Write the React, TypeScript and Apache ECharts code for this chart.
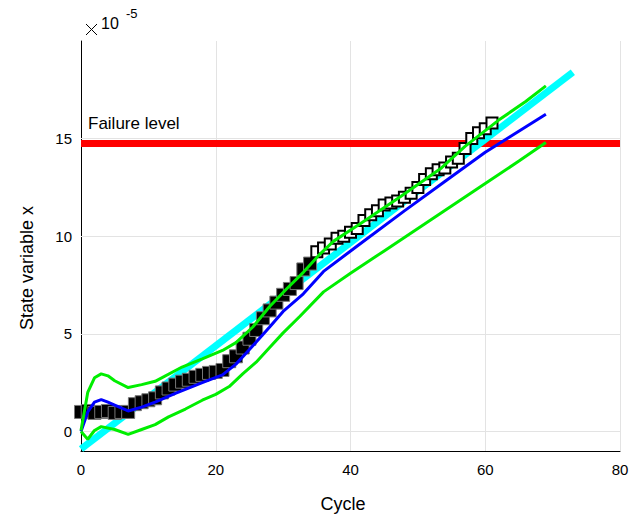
import React, { useEffect, useRef } from "react";
import * as echarts from "echarts";

// Measured state (x 1e-5) per cycle
const cycles = [
  0, 1, 2, 3, 4, 5, 6, 7, 8, 9, 10, 11, 12, 13, 14, 15, 16, 17, 18, 19, 20,
  21, 22, 23, 24, 25, 26, 27, 28, 29, 30, 31, 32, 33, 34, 35, 36, 37, 38, 39,
  40, 41, 42, 43, 44, 45, 46, 47, 48, 49, 50, 51, 52, 53, 54, 55, 56, 57, 58,
  59, 60, 61,
];
const measured = [
  1.0, 1.05, 0.95, 1.0, 1.05, 0.95, 1.0, 1.0, 1.4, 1.5, 1.6, 1.7, 2.0, 2.2,
  2.4, 2.55, 2.65, 2.8, 2.9, 3.0, 3.05, 3.15, 3.6, 3.85, 4.3, 4.75, 5.2, 5.8,
  6.2, 6.6, 7.0, 7.3, 7.6, 8.3, 8.6, 9.2, 9.4, 9.6, 9.9, 10.0, 10.2, 10.4,
  10.8, 11.1, 11.3, 11.6, 11.7, 11.8, 12.0, 12.2, 12.5, 12.9, 13.2, 13.4,
  13.5, 13.8, 14.0, 14.5, 15.0, 15.3, 15.5, 15.8,
];
const lastUsedCycle = 34;

// Median prediction (blue)
const medianX = [0, 1, 2, 3, 4, 5, 7, 9, 11, 14, 18, 21, 23, 25, 28, 30, 33, 36, 41, 48, 54, 60, 69];
const medianY = [0, 1.0, 1.5, 1.63, 1.5, 1.35, 1.05, 1.25, 1.5, 1.95, 2.5, 2.9, 3.45, 4.2, 5.35, 6.15, 7.05, 8.2, 9.5, 11.3, 12.8, 14.3, 16.25];

// Upper bound (green)
const upperX = [0, 1, 2, 3, 4, 5, 7, 9, 11, 15, 18, 21, 23, 25.5, 28, 30.5, 33, 35.5, 37.5, 41.5, 47.5, 53.5, 57, 62, 66, 69];
const upperY = [0.05, 2.0, 2.75, 2.95, 2.85, 2.6, 2.25, 2.4, 2.57, 3.3, 3.72, 4.15, 4.55, 5.35, 6.4, 7.3, 8.15, 9.1, 9.75, 10.65, 12.05, 13.5, 14.6, 15.95, 16.9, 17.7];

// Lower bound (green)
const lowerX = [0, 1, 2, 3, 5, 7, 9, 11, 13, 15.5, 18, 20, 22, 24, 26, 28, 30, 32.5, 36, 40, 45, 50, 55, 60, 65, 69];
const lowerY = [0, -0.4, 0.05, 0.25, 0.1, -0.15, 0.1, 0.35, 0.75, 1.15, 1.6, 1.9, 2.3, 2.95, 3.55, 4.3, 5.05, 5.9, 7.15, 8.1, 9.25, 10.4, 11.55, 12.7, 13.85, 14.8];

// True degradation (cyan)
const trueX = [0, 73];
const trueY = [-0.9, 18.4];

const failureLevel = 14.75;
const xTicks = [0, 20, 40, 60, 80];
const yTicks = [0, 5, 10, 15];

const FONT = "Liberation Sans, Arial, sans-serif";

const zip = (xs: number[], ys: number[]) => xs.map((x, i) => [x, ys[i]]);

export default function App() {
  const ref = useRef<HTMLDivElement>(null);
  useEffect(() => {
    if (!ref.current) return;
    const chart = echarts.init(ref.current, undefined, { renderer: "svg" });
    const pts = zip(cycles, measured);
    const used = pts.filter((p) => p[0] <= lastUsedCycle);
    const future = pts.filter((p) => p[0] > lastUsedCycle);
    chart.setOption({
      animation: false,
      backgroundColor: "#fff",
      grid: { left: 81, right: 15, top: 41, bottom: 64, containLabel: false },
      xAxis: {
        type: "value",
        min: 0,
        max: 80,
        interval: 20,
        axisLine: { show: true, onZero: false, lineStyle: { color: "#000", width: 1 } },
        axisTick: { show: true, inside: true, length: 5, lineStyle: { color: "#000" } },
        axisLabel: { color: "#000", fontSize: 15, fontFamily: FONT, margin: 11 },
        splitLine: { show: false },
      },
      yAxis: {
        type: "value",
        min: -1,
        max: 20,
        axisLine: { show: true, onZero: false, lineStyle: { color: "#000", width: 1 } },
        axisTick: { show: true, inside: true, length: 5, customValues: yTicks, lineStyle: { color: "#000" } },
        axisLabel: {
          color: "#000",
          fontSize: 15,
          fontFamily: FONT,
          margin: 9,
          customValues: yTicks,
          padding: [0, 0, 10, 0],
        },
        splitLine: { show: false },
      },
      graphic: [
        { type: "line", shape: { x1: 86, y1: 24, x2: 97, y2: 35 }, style: { stroke: "#000", lineWidth: 1 } },
        { type: "line", shape: { x1: 86, y1: 35, x2: 97, y2: 24 }, style: { stroke: "#000", lineWidth: 1 } },
        { type: "text", left: 101, top: 15, style: { text: "10", fontSize: 16, fontFamily: FONT, fill: "#000" } },
        { type: "text", left: 126, top: 7, style: { text: "-5", fontSize: 13, fontFamily: FONT, fill: "#000" } },
        { type: "text", left: 88, top: 115, style: { text: "Failure level", fontSize: 17, fontFamily: FONT, fill: "#000" } },
        {
          type: "text",
          x: 27,
          y: 268,
          rotation: Math.PI / 2,
          style: { text: "State variable x", fontSize: 18, fontFamily: FONT, fill: "#000", align: "center", verticalAlign: "middle" },
        },
        {
          type: "text",
          x: 343,
          y: 504,
          style: { text: "Cycle", fontSize: 18, fontFamily: FONT, fill: "#000", align: "center", verticalAlign: "middle" },
        },
      ],
      series: [
        {
          type: "line",
          z: 1,
          data: [],
          silent: true,
          markLine: {
            silent: true,
            z: 1,
            symbol: ["none", "none"],
            label: { show: false },
            lineStyle: { color: "#e3e3e3", type: "solid", width: 1 },
            data: [
              ...yTicks.map((v) => ({ yAxis: v })),
              ...xTicks.filter((v) => v > 0).map((v) => ({ xAxis: v })),
            ],
          },
        },
        {
          type: "line",
          z: 2,
          data: [
            [0, failureLevel],
            [80, failureLevel],
          ],
          symbol: "none",
          lineStyle: { color: "#ff0000", width: 7 },
        },
        {
          type: "line",
          z: 3,
          data: zip(trueX, trueY),
          symbol: "none",
          lineStyle: { color: "#00ffff", width: 7, cap: "butt" },
        },
        {
          type: "scatter",
          z: 4,
          data: used,
          symbol: "rect",
          symbolSize: 13,
          itemStyle: { color: "#000", borderColor: "#777", borderWidth: 1, opacity: 1 },
        },
        {
          type: "scatter",
          z: 4,
          data: future,
          symbol: "rect",
          symbolSize: 11,
          itemStyle: { color: "#fff", borderColor: "#000", borderWidth: 2, opacity: 1 },
        },
        {
          type: "line",
          z: 5,
          data: zip(medianX, medianY),
          symbol: "none",
          lineStyle: { color: "#0000ff", width: 3 },
        },
        {
          type: "line",
          z: 6,
          data: zip(upperX, upperY),
          symbol: "none",
          lineStyle: { color: "#00ee00", width: 3 },
        },
        {
          type: "line",
          z: 6,
          data: zip(lowerX, lowerY),
          symbol: "none",
          lineStyle: { color: "#00ee00", width: 3 },
        },
      ],
    });
    return () => chart.dispose();
  }, []);
  return (
    <div
      ref={ref}
      style={{ position: "absolute", left: 0, top: 0, width: 635, height: 515 }}
    />
  );
}
